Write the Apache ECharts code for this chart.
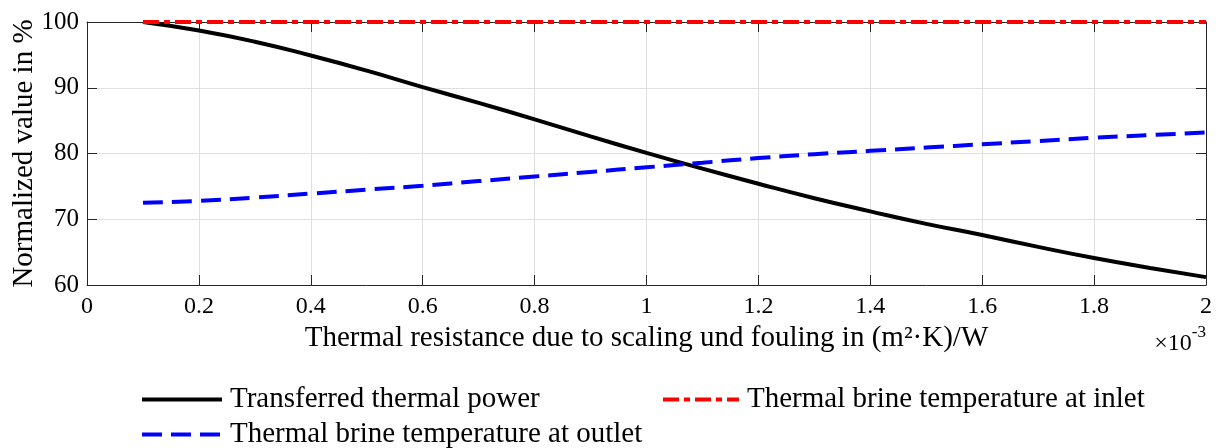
<!DOCTYPE html>
<html>
<head>
<meta charset="utf-8">
<script src="https://cdn.jsdelivr.net/npm/echarts@6/dist/echarts.min.js"></script>
<style>
  html, body { margin: 0; padding: 0; background: #fff; }
  #chart { width: 1221px; height: 448px; }
</style>
</head>
<body>
<div id="chart"></div>
<script>
// thermal resistance (x 1e-3)
const resistance = [0.1, 0.2, 0.3, 0.4, 0.5, 0.6, 0.7, 0.8, 0.9, 1.0,
                    1.1, 1.2, 1.3, 1.4, 1.5, 1.6, 1.7, 1.8, 1.9, 2.0];
const powerValues = [100, 98.7, 97.0, 94.9, 92.6, 90.1, 87.7, 85.2, 82.6, 80.1,
                     77.7, 75.4, 73.2, 71.2, 69.3, 67.6, 65.8, 64.1, 62.6, 61.2];
const inletValues = [100, 100, 100, 100, 100, 100, 100, 100, 100, 100,
                     100, 100, 100, 100, 100, 100, 100, 100, 100, 100];
const outletValues = [72.5, 72.8, 73.3, 73.9, 74.5, 75.1, 75.8, 76.5, 77.2, 77.9,
                      78.6, 79.3, 79.9, 80.4, 80.9, 81.4, 81.9, 82.4, 82.8, 83.2];
const seriesNames = ['Transferred thermal power', 'Thermal brine temperature at inlet',
                     'Thermal brine temperature at outlet'];

const FONT = 'Liberation Serif';

function pairs(ys) {
  var out = [];
  for (var i = 0; i < resistance.length; i++) {
    out.push([resistance[i], ys[i]]);
  }
  return out;
}

const chart = echarts.init(document.getElementById('chart'), null, { renderer: 'canvas' });

const legendText = { fontFamily: FONT, fontSize: 29, color: '#000', padding: [0, 0, 0, 3] };

function makeLegend(name, left, top, width) {
  return {
    show: true,
    orient: 'horizontal',
    data: [name],
    left: left + 'px',
    top: top + 'px',
    itemWidth: width,
    itemHeight: 20,
    padding: 0,
    itemStyle: { opacity: 0 },
    lineStyle: { width: 4 },
    textStyle: legendText
  };
}

const option = {
  animation: false,
  backgroundColor: '#fff',
  grid: {
    left: 87, right: 15, top: 22, bottom: 163,
    containLabel: false,
    outerBoundsMode: 'none'
  },
  legend: [
    makeLegend(seriesNames[0], 140, 385, 80),
    makeLegend(seriesNames[1], 661, 385, 76),
    makeLegend(seriesNames[2], 140, 420, 80)
  ],
  xAxis: [{
    type: 'value',
    min: 0, max: 2, interval: 0.2,
    name: 'Thermal resistance due to scaling und fouling in (m²·K)/W',
    nameLocation: 'middle',
    nameGap: 33,
    nameTextStyle: { fontFamily: FONT, fontSize: 29, color: '#000' },
    axisLine: { show: true, onZero: false, lineStyle: { color: '#262626', width: 1 } },
    axisTick: { show: true, inside: true, length: 10, lineStyle: { color: '#262626' } },
    axisLabel: { fontFamily: FONT, fontSize: 24, color: '#000', margin: 10 },
    splitLine: { show: true, lineStyle: { color: '#dfdfdf', width: 1 } }
  }, {
    type: 'value', position: 'top',
    min: 0, max: 2, interval: 0.2,
    axisLine: { show: true, onZero: false, lineStyle: { color: '#262626', width: 1 } },
    axisTick: { show: true, inside: true, length: 10, lineStyle: { color: '#262626' } },
    axisLabel: { show: false },
    splitLine: { show: false }
  }],
  yAxis: [{
    type: 'value',
    min: 60, max: 100, interval: 10,
    name: 'Normalized value in %',
    nameLocation: 'middle',
    nameGap: 48,
    nameMoveOverlap: false,
    nameTextStyle: { fontFamily: FONT, fontSize: 29, color: '#000' },
    axisLine: { show: true, onZero: false, lineStyle: { color: '#262626', width: 1 } },
    axisTick: { show: true, inside: true, length: 10, lineStyle: { color: '#262626' } },
    axisLabel: { fontFamily: FONT, fontSize: 25, color: '#000', margin: 8 },
    splitLine: { show: true, lineStyle: { color: '#dfdfdf', width: 1 } }
  }, {
    type: 'value', position: 'right',
    min: 60, max: 100, interval: 10,
    axisLine: { show: true, onZero: false, lineStyle: { color: '#262626', width: 1 } },
    axisTick: { show: true, inside: true, length: 10, lineStyle: { color: '#262626' } },
    axisLabel: { show: false },
    splitLine: { show: false }
  }],
  graphic: [{
    type: 'text',
    right: 15,
    top: 324,
    style: {
      text: '{a|×10}{b|-3}',
      rich: {
        a: { fontFamily: FONT, fontSize: 24, color: '#000', verticalAlign: 'bottom', padding: [8, 0, 0, 0] },
        b: { fontFamily: FONT, fontSize: 17, color: '#000', verticalAlign: 'top' }
      }
    }
  }],
  series: [{
    name: seriesNames[0],
    type: 'line',
    data: pairs(powerValues),
    smooth: true,
    symbol: 'none',
    z: 3,
    lineStyle: { color: '#000', width: 4 },
    itemStyle: { color: '#000' }
  }, {
    name: seriesNames[1],
    type: 'line',
    data: pairs(inletValues),
    symbol: 'none',
    z: 4,
    lineStyle: { color: '#ff0000', width: 4, type: [16, 5, 6, 5] },
    itemStyle: { color: '#ff0000' }
  }, {
    name: seriesNames[2],
    type: 'line',
    data: pairs(outletValues),
    smooth: true,
    symbol: 'none',
    z: 3,
    lineStyle: { color: '#0000ff', width: 4, type: [20, 9] },
    itemStyle: { color: '#0000ff' }
  }]
};

chart.setOption(option);
</script>
</body>
</html>
